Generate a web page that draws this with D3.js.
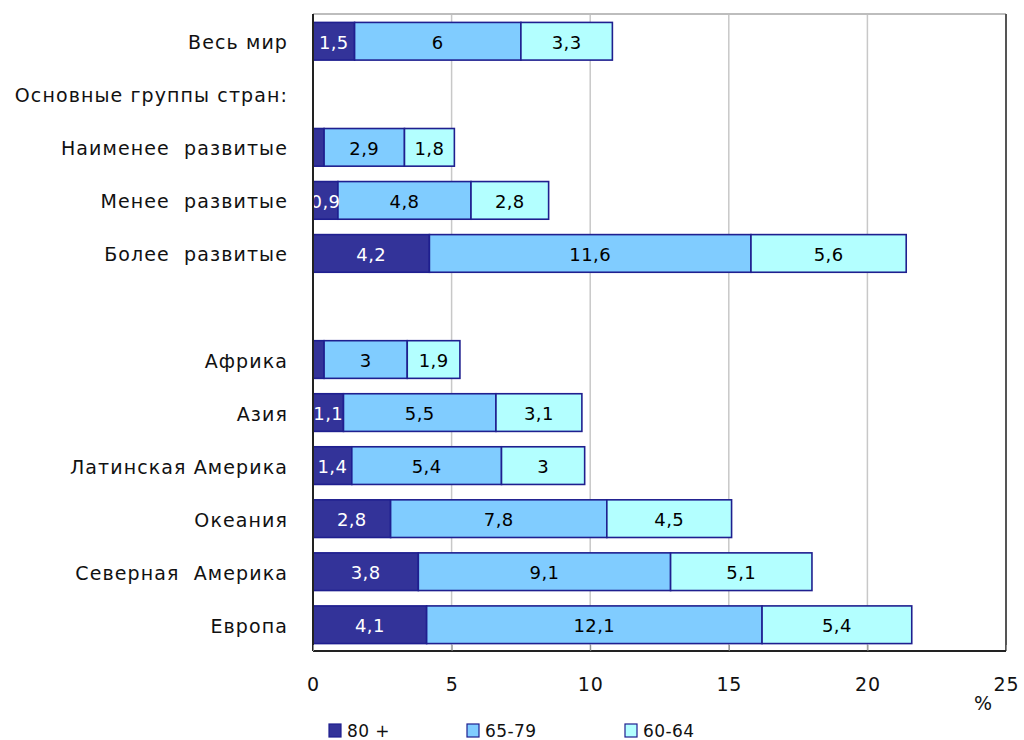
<!DOCTYPE html>
<html>
<head>
<meta charset="utf-8">
<script src="https://cdn.jsdelivr.net/npm/d3@7"></script>
<style>
  html, body { margin: 0; padding: 0; background: #fff; }
  svg { display: block; }
  text { font-family: "DejaVu Sans", Verdana, sans-serif; }
</style>
</head>
<body>
<svg id="chart" width="1024" height="740"></svg>
<script>
// Population share by age group, % of total population
const categories = [
  "Весь мир",
  "Основные группы стран:",
  "Наименее  развитые",
  "Менее  развитые",
  "Более  развитые",
  "",
  "Африка",
  "Азия",
  "Латинская Америка",
  "Океания",
  "Северная  Америка",
  "Европа"
];
// null marks a heading or spacer row with no bar
const age80plus = [1.5, null, 0.4, 0.9, 4.2, null, 0.4, 1.1, 1.4, 2.8, 3.8, 4.1];
const age65to79 = [6,   null, 2.9, 4.8, 11.6, null, 3,  5.5, 5.4, 7.8, 9.1, 12.1];
const age60to64 = [3.3, null, 1.8, 2.8, 5.6, null, 1.9, 3.1, 3,   4.5, 5.1, 5.4];
const seriesNames = ["80 +", "65-79", "60-64"];
const xTicks = [0, 5, 10, 15, 20, 25];

const colors = ["#333399", "#80CCFF", "#B3FFFF"];
const labelColors = ["#ffffff", "#000000", "#000000"];

const svg = d3.select("#chart");
const plot = { left: 313, right: 1006, top: 14, bottom: 651 };

const x = d3.scaleLinear().domain([0, 25]).range([plot.left, plot.right]);
const y = d3.scaleBand().domain(d3.range(categories.length))
  .range([plot.top + 1, plot.bottom]).paddingInner(0.29).paddingOuter(0.14);

// plot frame and vertical gridlines
svg.append("g").selectAll("line").data(xTicks.slice(1, -1)).join("line")
  .attr("x1", d => x(d)).attr("x2", d => x(d))
  .attr("y1", plot.top).attr("y2", plot.bottom)
  .attr("stroke", "#c8c8c8").attr("stroke-width", 1.5);
svg.append("line").attr("x1", plot.left).attr("x2", plot.right)
  .attr("y1", plot.top).attr("y2", plot.top)
  .attr("stroke", "#bdbdbd").attr("stroke-width", 2);
svg.append("line").attr("x1", plot.right).attr("x2", plot.right)
  .attr("y1", plot.top).attr("y2", plot.bottom)
  .attr("stroke", "#555").attr("stroke-width", 2);

// stacked segments
const rows = categories.map((c, i) => ({ i, vals: [age80plus[i], age65to79[i], age60to64[i]] }))
  .filter(r => r.vals[0] !== null);
const segs = [];
rows.forEach(r => {
  let acc = 0;
  r.vals.forEach((v, k) => { segs.push({ i: r.i, k, v, x0: acc, x1: acc + v }); acc += v; });
});

svg.append("g").selectAll("rect").data(segs).join("rect")
  .attr("x", d => x(d.x0)).attr("width", d => x(d.x1) - x(d.x0))
  .attr("y", d => y(d.i)).attr("height", y.bandwidth())
  .attr("fill", d => colors[d.k])
  .attr("stroke", "#1f1f8f").attr("stroke-width", 1.6);

svg.append("g").selectAll("text").data(segs.filter(d => d.v >= 0.8)).join("text")
  .attr("x", d => (x(d.x0) + x(d.x1)) / 2)
  .attr("y", d => y(d.i) + y.bandwidth() / 2 + 1)
  .attr("text-anchor", "middle").attr("dominant-baseline", "central")
  .attr("font-size", 18).attr("letter-spacing", 0.4).attr("fill", d => labelColors[d.k])
  .text(d => String(d.v).replace(".", ","));

// axes lines
svg.append("line").attr("x1", plot.left).attr("x2", plot.right)
  .attr("y1", plot.bottom).attr("y2", plot.bottom)
  .attr("stroke", "#222").attr("stroke-width", 2);
svg.append("line").attr("x1", plot.left).attr("x2", plot.left)
  .attr("y1", plot.top).attr("y2", plot.bottom)
  .attr("stroke", "#222").attr("stroke-width", 2);

// x axis ticks and labels
const xAxis = d3.axisBottom(x).tickValues(xTicks).tickSize(-6).tickPadding(27)
  .tickFormat(d3.format("d"));
const gx = svg.append("g").attr("transform", `translate(0,${plot.bottom})`).call(xAxis);
gx.select(".domain").remove();
gx.selectAll(".tick line").attr("stroke", "#888");
gx.selectAll(".tick text").attr("font-size", 19).attr("letter-spacing", 0.8)
  .attr("fill", "#111").attr("font-family", "DejaVu Sans");
svg.append("text").attr("x", x(25) - 23).attr("y", 710)
  .attr("text-anchor", "middle").attr("font-size", 19).attr("fill", "#111").text("%");

// category labels
svg.append("g").selectAll("text").data(categories).join("text")
  .attr("x", 288).attr("y", (d, i) => y(i) + y.bandwidth() / 2 + 1)
  .attr("text-anchor", "end").attr("dominant-baseline", "central")
  .attr("font-size", 19).attr("letter-spacing", 1.1).attr("fill", "#111")
  .style("white-space", "pre")
  .text(d => d);

// legend
const legendX = [329, 467, 625];
const lg = svg.append("g").selectAll("g").data(seriesNames).join("g")
  .attr("transform", (d, k) => `translate(${legendX[k]},724)`);
lg.append("rect").attr("width", 12).attr("height", 13)
  .attr("fill", (d, k) => colors[k]).attr("stroke", "#1f1f8f").attr("stroke-width", 1.2);
lg.append("text").attr("x", 18).attr("y", 7).attr("dominant-baseline", "central")
  .attr("font-size", 17).attr("letter-spacing", 0.4).attr("fill", "#111").text(d => d);
</script>
</body>
</html>
